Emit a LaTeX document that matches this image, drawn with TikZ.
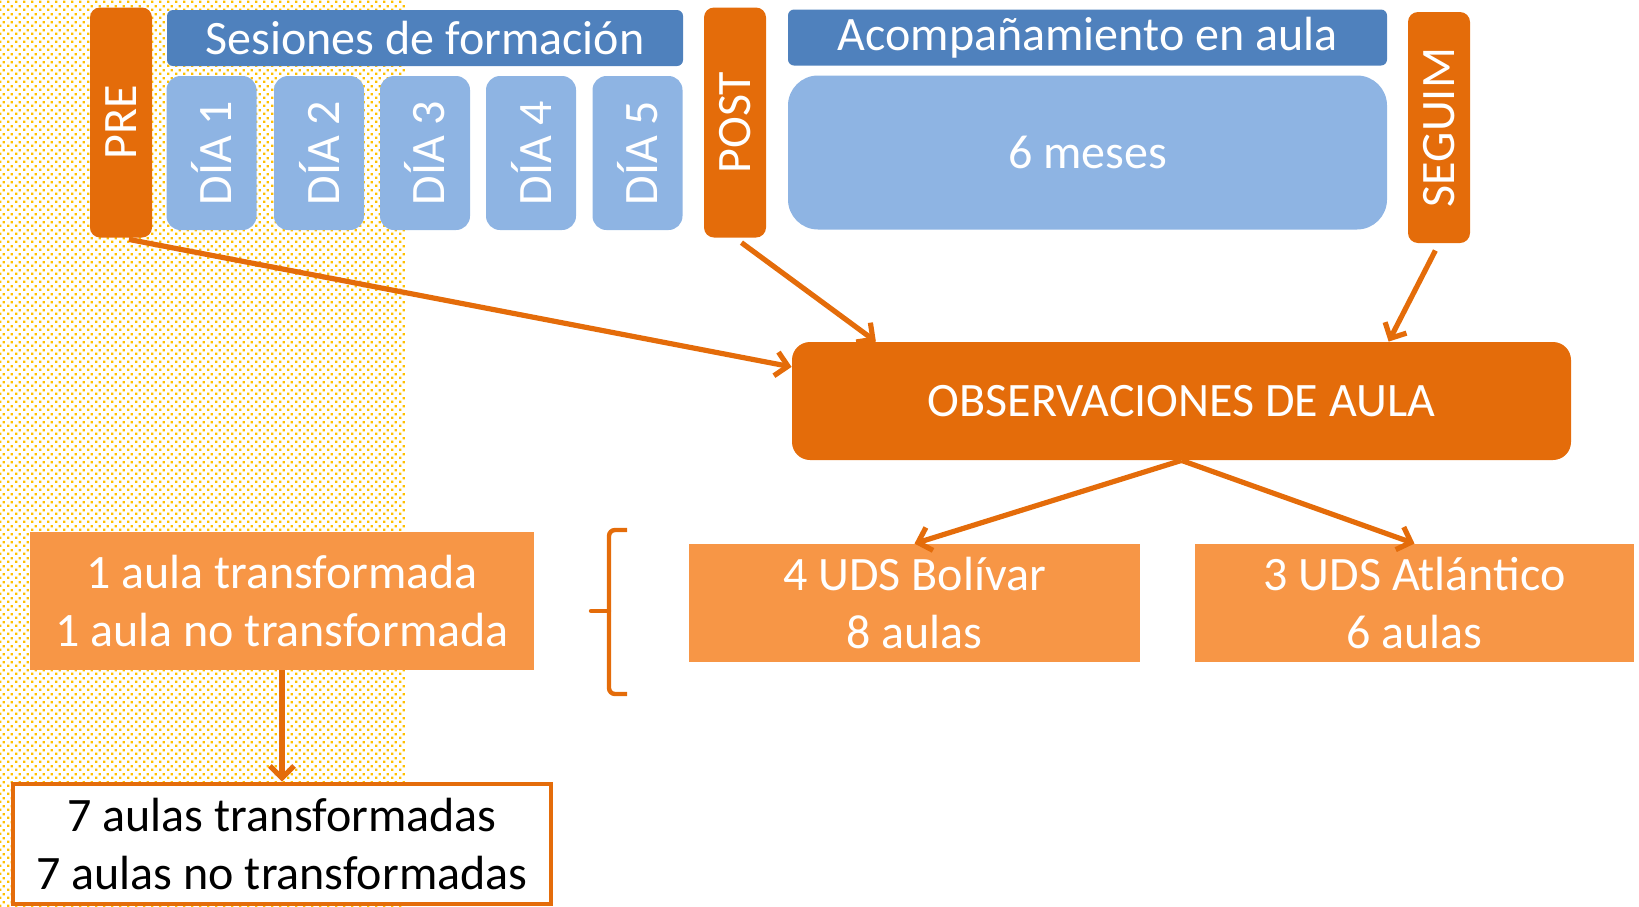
\documentclass[tikz,border=0pt]{standalone}
\usepackage{fontspec}
\setmainfont{Carlito}
\usepackage{graphicx}
\usepackage{tikz}
\usetikzlibrary{arrows.meta,patterns}
\pgfdeclarelayer{bg}
\pgfsetlayers{bg,main}
\definecolor{naranja}{HTML}{E46C0A}
\definecolor{naranjaclaro}{HTML}{F79646}
\definecolor{azul}{HTML}{4F81BD}
\definecolor{azulclaro}{HTML}{8EB4E3}
\definecolor{puntos}{HTML}{FFC000}
\pgfdeclarepatternformonly{puntitos}{\pgfpointorigin}{\pgfqpoint{4pt}{4pt}}{\pgfqpoint{4pt}{4pt}}{
    \pgfpathrectangle{\pgfqpoint{0pt}{0pt}}{\pgfqpoint{1.3pt}{1.3pt}}
    \pgfpathrectangle{\pgfqpoint{2pt}{2pt}}{\pgfqpoint{1.3pt}{1.3pt}}
    \pgfusepath{fill}
}
\tikzset{
    every node/.style={inner sep=0mm, text=white, align=center, font=\fontsize{24}{29}\selectfont}
}
\tikzset{
    fase/.style={fill=naranja, rounded corners=5pt, minimum width=31pt, minimum height=115pt},
    titulo/.style={fill=azul, rounded corners=3pt, minimum height=28pt},
    dia/.style={fill=azulclaro, rounded corners=7pt, minimum width=45pt, minimum height=77pt},
    grupo/.style={fill=naranjaclaro, minimum height=59pt},
    flecha/.style={draw=naranja, line width=2.6pt, shorten <=4pt, -{Straight Barb[length=6pt, width=12pt]}}
}

\begin{document}
\begin{tikzpicture}[x=0.5pt, y=-0.5pt]
        \useasboundingbox (0, 0) rectangle (1639, 906);
        \node (pre) [fase] at (121, 122.5) {\rotatebox{90}{PRE}};
        \node (ses) [titulo, minimum width=258pt] at (425, 38) {Sesiones de formación};
        \node (d1) [dia] at (211.5, 153) {\rotatebox{90}{DÍA 1}};
        \node (d2) [dia] at (319, 153) {\rotatebox{90}{DÍA 2}};
        \node (d3) [dia] at (425, 153) {\rotatebox{90}{DÍA 3}};
        \node (d4) [dia] at (531, 153) {\rotatebox{90}{DÍA 4}};
        \node (d5) [dia] at (637.5, 153) {\rotatebox{90}{DÍA 5}};
        \node (post) [fase] at (735, 122.5) {\rotatebox{90}{POST}};
        \node (acom) [titulo, minimum width=299.5pt] at (1087.5, 37.5) {Acompañamiento en aula};
        \node (meses) [dia, rounded corners=15pt, minimum width=299.5pt] at (1087.5, 152.5) {6 meses};
        \node (seg) [fase, minimum height=115.5pt] at (1439, 127.5) {\rotatebox{90}{SEGUIM}};
        \node (obs) [fill=naranja, rounded corners=9pt, minimum width=389.5pt, minimum height=59pt] at (1181.5, 401) {OBSERVACIONES DE AULA};
        \node (bol) [grupo, minimum width=225.5pt] at (914.5, 603) {4 UDS Bolívar\\8 aulas};
        \node (atl) [grupo, minimum width=219.5pt] at (1414.5, 603) {3 UDS Atlántico\\6 aulas};
        \node (uno) [grupo, minimum width=252pt, minimum height=69pt] at (282, 601) {1 aula transformada\\1 aula no transformada};
        \node (siete) [draw=naranja, line width=2.4pt, fill=white, text=black, minimum width=269pt, minimum height=60pt] at (282, 844) {7 aulas transformadas\\7 aulas no transformadas};
        % llave
        \draw [naranja, line width=2.2pt, rounded corners=3pt] (627, 530) -- (609, 530) -- (609, 694) -- (627, 694);
        \draw [naranja, line width=2.2pt, line cap=round] (591, 611) -- (609, 611);
        \begin{pgfonlayer}{bg}
                \fill [pattern=puntitos, pattern color=puntos] (0, 0) rectangle (405, 906);
        \end{pgfonlayer}
        \draw (pre.south) edge [flecha] (obs.175);
        \draw (post.south) edge [flecha] (obs.169);
        \draw (seg.south) edge [flecha] (obs.16);
        \draw (obs.south) edge [flecha, shorten <=0pt] (bol.north);
        \draw (obs.south) edge [flecha, shorten <=0pt] (atl.north);
        \draw (uno.south) edge [flecha, shorten <=0pt] (siete.north);
\end{tikzpicture}
\end{document}
